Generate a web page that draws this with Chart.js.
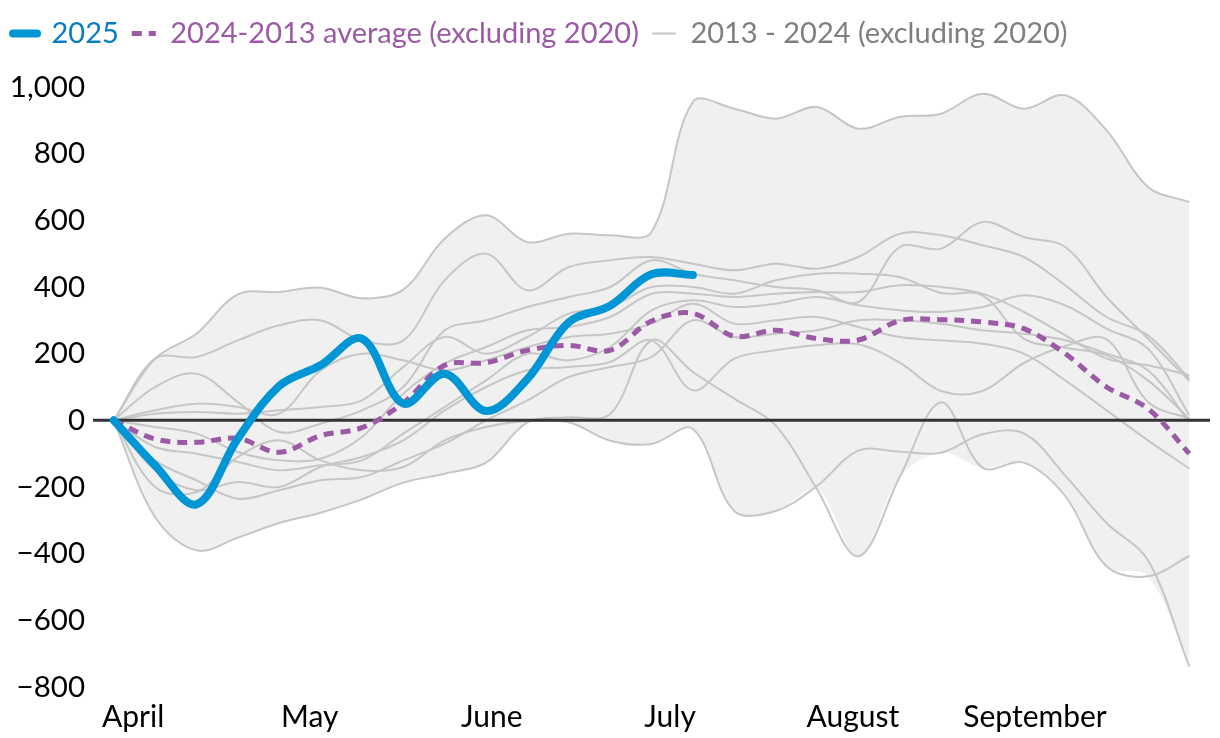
<!DOCTYPE html>
<html>
<head>
<meta charset="utf-8">
<script src="https://cdn.jsdelivr.net/npm/chart.js@4.4.1/dist/chart.umd.min.js"></script>
<style>
  html, body { margin: 0; padding: 0; background: #fff; }
  #wrap { width: 1220px; height: 738px; overflow: hidden; }
</style>
</head>
<body>
<div id="wrap"><canvas id="chart" width="1220" height="738"></canvas></div>
<script>
// month labels on the x axis and where they sit (in weeks from the start)
const monthLabels = ['April', 'May', 'June', 'July', 'August', 'September'];
const monthTicks = [0.47, 4.74, 9.14, 13.45, 17.87, 22.27];

// weekly cumulative change, one value per week
const series2025 = [0, -135, -252, -55, 103, 165, 245, 50, 140, 28, 124, 294, 344, 438, 436];
const average = [0, -56, -66, -54, -96, -46, -22, 52, 165, 173, 210, 225, 210, 298, 321, 252, 270, 245, 241, 299, 302, 295, 275, 200, 100, 35, -100];

const y2013 = [0, 185, 260, 378, 385, 398, 366, 392, 545, 615, 535, 560, 555, 565, 955, 935, 905, 940, 875, 910, 920, 980, 935, 975, 870, 700, 655];
const y2014 = [0, -290, -390, -352, -308, -277, -237, -187, -160, -127, -6, 9, 19, 240, 145, 65, -15, -207, -408, -170, 54, -142, -127, -227, -438, -468, -407];
const y2015 = [0, -200, -215, -110, -60, -120, -150, -140, -60, -20, -3, -6, -61, -71, -26, -272, -272, -197, -91, -94, -97, -42, -39, -166, -308, -420, -739];
const y2016 = [0, 185, 190, 240, 285, 300, 240, 240, 420, 500, 390, 460, 480, 490, 470, 450, 470, 455, 490, 560, 555, 525, 490, 405, 310, 255, 125];
const y2017 = [0, 100, 140, 55, -35, -10, 30, 100, 270, 300, 340, 370, 400, 480, 440, 420, 400, 390, 355, 520, 515, 595, 550, 520, 370, 245, 118];
const y2018 = [0, 20, 25, 20, 30, 40, 60, 160, 250, 200, 250, 320, 340, 400, 400, 380, 420, 440, 440, 430, 382, 375, 245, 218, 195, 120, 5];
const y2019 = [0, -20, -40, -95, -120, -115, -50, 80, 170, 220, 270, 280, 310, 380, 380, 370, 380, 385, 385, 405, 400, 380, 325, 255, 185, 165, 135];
const y2021 = [0, -80, -100, -125, -150, -135, -120, -40, 40, 120, 200, 180, 220, 330, 360, 340, 350, 370, 345, 330, 325, 340, 375, 345, 275, 215, 15];
const y2022 = [0, -150, -210, -185, -200, -140, -110, -60, 30, 100, 150, 160, 175, 240, 90, 185, 210, 225, 228, 173, 88, 88, 172, 223, 243, 55, 5];
const y2023 = [0, -120, -180, -235, -210, -180, -170, -120, -70, 0, 60, 130, 160, 190, 300, 250, 260, 270, 300, 300, 290, 270, 260, 240, 200, 150, -5];
const y2024 = [0, 30, 50, 40, 20, 150, 200, 180, 150, 180, 220, 250, 260, 290, 350, 290, 300, 310, 280, 250, 240, 230, 200, 120, 30, -60, -145];

const pastYears = [y2013, y2014, y2015, y2016, y2017, y2018, y2019, y2021, y2022, y2023, y2024];

const yTicks = [-800, -600, -400, -200, 0, 200, 400, 600, 800, 1000];

// min / max envelope of the past years
const bandMax = y2013.map((_, i) => Math.max(...pastYears.map(s => s[i])));
const bandMin = y2013.map((_, i) => Math.min(...pastYears.map(s => s[i])));

const toXY = arr => arr.map((v, i) => ({ x: i, y: v }));

const BLUE = '#0096d6';
const PURPLE = '#9b59a6';
const GREY = '#c6c6c6';
const FONT = 'Lato';

const datasets = [];
datasets.push({
    label: '2025',
    data: toXY(series2025),
    borderColor: BLUE,
    borderWidth: 8,
    borderCapStyle: 'round',
    tension: 0.35,
    pointRadius: 0,
    fill: false
});
datasets.push({
    label: '2024-2013 average (excluding 2020)',
    data: toXY(average),
    borderColor: PURPLE,
    borderWidth: 5,
    borderDash: [10, 7],
    tension: 0.35,
    pointRadius: 0,
    fill: false
});
pastYears.forEach(s => {
    datasets.push({
        label: '2013 - 2024 (excluding 2020)',
        data: toXY(s),
        borderColor: GREY,
        borderWidth: 2,
        tension: 0.35,
        pointRadius: 0,
        fill: false
    });
});
const bandIndex = datasets.length;
datasets.push({
    label: 'max',
    data: toXY(bandMax),
    borderWidth: 0,
    borderColor: 'rgba(0,0,0,0)',
    backgroundColor: '#f0f0f0',
    tension: 0.35,
    pointRadius: 0,
    fill: { target: bandIndex + 1 }
});
datasets.push({
    label: 'min',
    data: toXY(bandMin),
    borderWidth: 0,
    borderColor: 'rgba(0,0,0,0)',
    tension: 0.35,
    pointRadius: 0,
    fill: false
});

// make room between the legend and the plot
const legendSpacer = {
    id: 'legendSpacer',
    beforeInit(chart) {
        const origFit = chart.legend.fit;
        chart.legend.fit = function () {
            origFit.bind(chart.legend)();
            this.height = 81;
        };
    }
};

// dark zero line, drawn over the grey band and the past years
const zeroLine = {
    id: 'zeroLine',
    afterDatasetDraw(chart, args) {
        if (args.index !== 2) return;
        const ctx = chart.ctx;
        const y = chart.scales.y.getPixelForValue(0);
        const area = chart.chartArea;
        ctx.save();
        ctx.strokeStyle = '#333333';
        ctx.lineWidth = 3;
        ctx.beginPath();
        ctx.moveTo(area.left, y);
        ctx.lineTo(area.right, y);
        ctx.stroke();
        ctx.restore();
    }
};

const fmt = v => {
    const s = Math.abs(v).toLocaleString('en-US');
    return v < 0 ? '\u2212' + s : s;
};

new Chart(document.getElementById('chart'), {
    type: 'line',
    data: { datasets: datasets },
    options: {
        responsive: false,
        animation: false,
        layout: { padding: { top: 6, right: 10, left: 0, bottom: -9 } },
        plugins: {
            tooltip: { enabled: false },
            legend: {
                position: 'top',
                align: 'start',
                labels: {
                    usePointStyle: true,
                    pointStyleWidth: 24,
                    padding: 13,
                    font: { family: FONT, size: 29 },
                    generateLabels: () => [
                        { text: '2025', fontColor: '#0a7cc2', strokeStyle: BLUE, lineWidth: 8, lineCap: 'round', pointStyle: 'line', datasetIndex: 0 },
                        { text: '2024-2013 average (excluding 2020)', fontColor: PURPLE, strokeStyle: PURPLE, lineWidth: 5, lineDash: [10, 7], pointStyle: 'line', datasetIndex: 1 },
                        { text: '2013 - 2024 (excluding 2020)', fontColor: '#7f7f7f', strokeStyle: GREY, lineWidth: 2, pointStyle: 'line', datasetIndex: 2 }
                    ]
                },
                onClick: () => {}
            }
        },
        scales: {
            x: {
                type: 'linear',
                min: -0.5,
                max: 26.5,
                afterBuildTicks: axis => { axis.ticks = monthTicks.map(v => ({ value: v })); },
                grid: { display: false, drawTicks: false },
                border: { display: false },
                ticks: {
                    autoSkip: false,
                    maxRotation: 0,
                    padding: 12,
                    color: '#000',
                    font: { family: FONT, size: 30 },
                    callback: (v, i) => monthLabels[i]
                }
            },
            y: {
                min: -800,
                max: 1000,
                afterBuildTicks: axis => { axis.ticks = yTicks.map(v => ({ value: v })); },
                afterFit: scale => { scale.width = 93; },
                grid: { display: false, drawTicks: false },
                border: { display: false },
                ticks: {
                    padding: 8,
                    color: '#000',
                    font: { family: FONT, size: 29.5 },
                    callback: v => fmt(v)
                }
            }
        }
    },
    plugins: [legendSpacer, zeroLine]
});
</script>
</body>
</html>
